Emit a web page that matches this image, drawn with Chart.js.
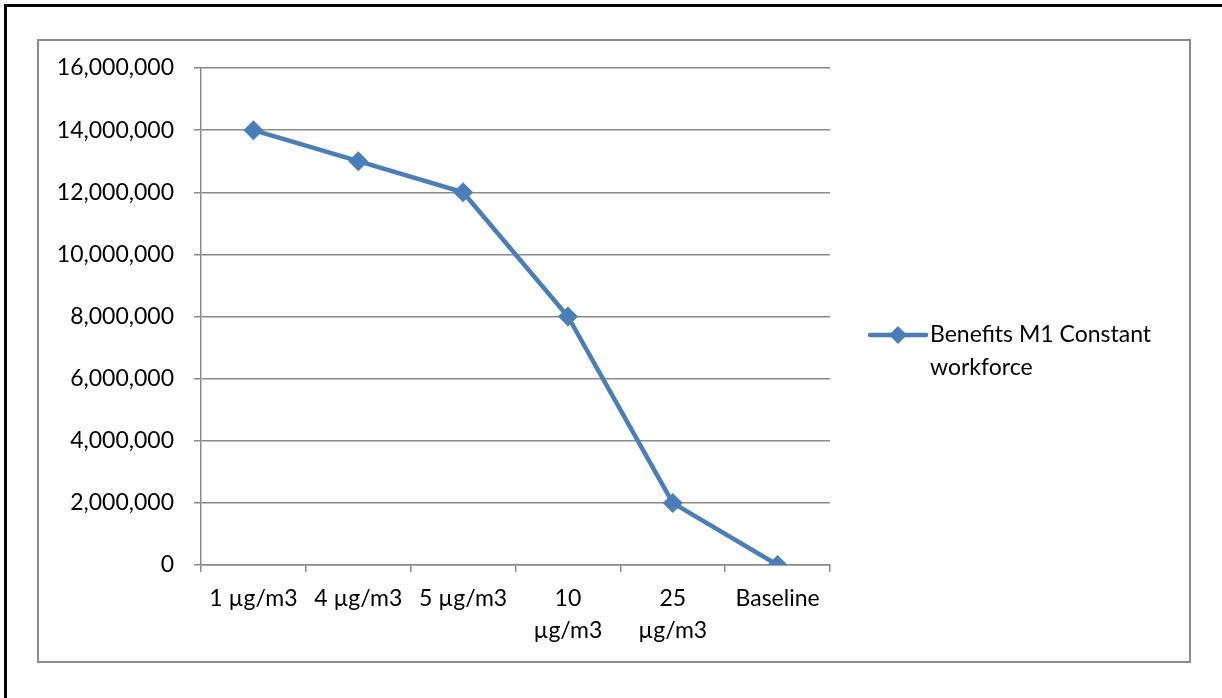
<!DOCTYPE html>
<html>
<head>
<meta charset="utf-8">
<script src="https://cdn.jsdelivr.net/npm/chart.js@4/dist/chart.umd.min.js"></script>
<style>
  html, body { margin: 0; padding: 0; background: #fff; }
  #wrap { width: 1222px; height: 698px; position: relative; }
</style>
</head>
<body>
<div id="wrap"><canvas id="chart" width="1222" height="698"></canvas></div>
<script>
// chart data
const categories = ['1 µg/m3', '4 µg/m3', '5 µg/m3', ['10', 'µg/m3'], ['25', 'µg/m3'], 'Baseline'];
const seriesName = 'Benefits M1 Constant workforce';
const benefits = [14000000, 13000000, 12000000, 8000000, 2000000, 0];
const yMin = 0;
const yMax = 16000000;
const yStep = 2000000;

const FONT = 'Lato, "Open Sans", sans-serif';
const FONT_SIZE = 23;
const LINE_BLUE = '#4a7ebb';
const GRID_GREY = '#8a8a8a';

// frame: black page edge + grey chart border
const framePlugin = {
  id: 'frame',
  beforeDraw: (chart) => {
    const ctx = chart.ctx;
    ctx.save();
    ctx.fillStyle = '#fff';
    ctx.fillRect(0, 0, chart.width, chart.height);
    ctx.fillStyle = '#000';
    ctx.fillRect(4, 4, chart.width - 4, 3);
    ctx.fillRect(4, 4, 3, chart.height - 4);
    ctx.strokeStyle = '#8c8c8c';
    ctx.lineWidth = 2;
    ctx.strokeRect(38, 40, 1152, 622);
    ctx.restore();
  }
};

// legend on the right, text wrapped onto two lines like the original
const sideLegend = {
  id: 'sideLegend',
  afterDraw: (chart) => {
    const ctx = chart.ctx;
    const ds = chart.data.datasets[0];
    const x = 870, y = 335;
    ctx.save();
    ctx.strokeStyle = ds.borderColor;
    ctx.lineWidth = 4.5;
    ctx.lineCap = 'round';
    ctx.beginPath();
    ctx.moveTo(x, y);
    ctx.lineTo(x + 56, y);
    ctx.stroke();
    ctx.fillStyle = ds.borderColor;
    ctx.beginPath();
    ctx.moveTo(x + 28, y - 9);
    ctx.lineTo(x + 37, y);
    ctx.lineTo(x + 28, y + 9);
    ctx.lineTo(x + 19, y);
    ctx.closePath();
    ctx.fill();

    ctx.fillStyle = '#000';
    ctx.font = FONT_SIZE + 'px ' + FONT;
    ctx.textAlign = 'left';
    ctx.textBaseline = 'middle';
    ctx.fillText('Benefits M1 Constant', x + 60, y);
    ctx.fillText('workforce', x + 60, y + 33);
    ctx.restore();
  }
};

new Chart(document.getElementById('chart').getContext('2d'), {
  type: 'line',
  data: {
    labels: categories,
    datasets: [{
      label: seriesName,
      data: benefits,
      borderColor: LINE_BLUE,
      backgroundColor: LINE_BLUE,
      borderWidth: 4.5,
      pointStyle: 'rectRot',
      pointRadius: 10,
      pointHoverRadius: 10,
      pointBorderWidth: 0,
      tension: 0
    }]
  },
  options: {
    responsive: false,
    animation: false,
    layout: { padding: { left: 40, right: 392, top: 68, bottom: 40 } },
    plugins: {
      legend: { display: false },
      tooltip: { enabled: false }
    },
    scales: {
      x: {
        offset: true,
        grid: {
          offset: true,
          drawOnChartArea: false,
          color: GRID_GREY,
          lineWidth: 1.5,
          tickLength: 7,
          tickColor: GRID_GREY
        },
        border: { color: GRID_GREY, width: 1.5 },
        ticks: {
          color: '#000',
          font: { family: FONT, size: FONT_SIZE, lineHeight: 1.4 },
          padding: 10,
          maxRotation: 0,
          autoSkip: false
        },
        afterFit: (scale) => { scale.height = 698 - 40 - 565; }
      },
      y: {
        min: yMin,
        max: yMax,
        grid: {
          color: GRID_GREY,
          lineWidth: 1.5,
          tickLength: 7,
          tickColor: GRID_GREY
        },
        border: { color: GRID_GREY, width: 1.5 },
        ticks: {
          stepSize: yStep,
          color: '#000',
          font: { family: FONT, size: FONT_SIZE },
          padding: 20,
          callback: (v) => Number(v).toLocaleString('en-US')
        },
        afterFit: (scale) => { scale.width = 201 - 40; }
      }
    }
  },
  plugins: [framePlugin, sideLegend]
});
</script>
</body>
</html>
